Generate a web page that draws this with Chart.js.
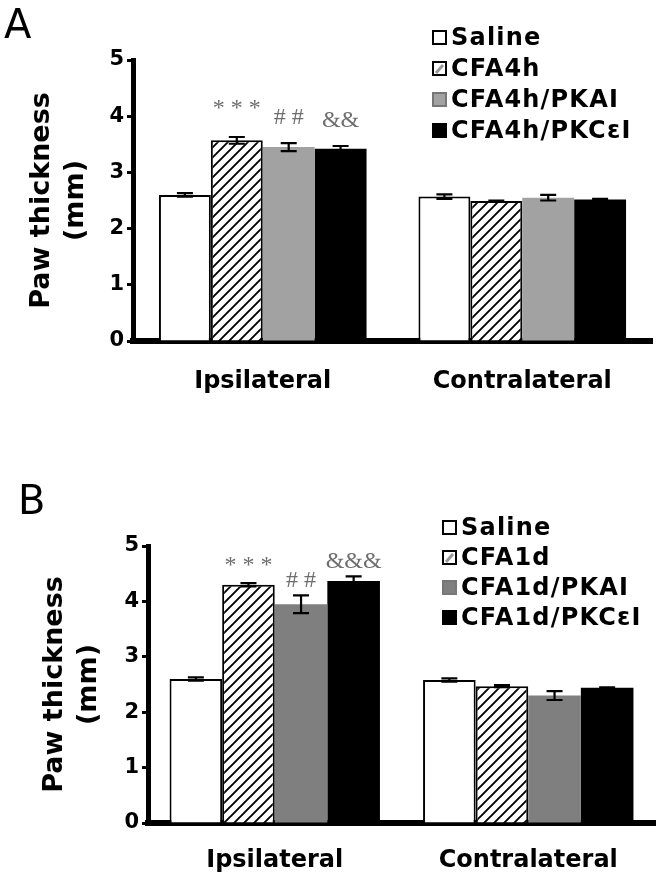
<!DOCTYPE html>
<html>
<head>
<meta charset="utf-8">
<script src="https://cdn.jsdelivr.net/npm/chart.js@4.4.1/dist/chart.umd.min.js"></script>
<style>
  html, body { margin: 0; padding: 0; background: #fff; }
  .panel { position: absolute; left: 0; width: 666px; height: 437px; }
</style>
</head>
<body>
<div class="panel" style="top:0"><canvas id="chartA"></canvas></div>
<div class="panel" style="top:437px"><canvas id="chartB"></canvas></div>
<script>
const categories = ['Ipsilateral', 'Contralateral'];
const yTicks = [0, 1, 2, 3, 4, 5];

// panel A - 4h
const groupsA = ['Saline', 'CFA4h', 'CFA4h/PKAI', 'CFA4h/PKCεI'];
const salineA = [2.60, 2.57];
const cfa4h = [3.57, 2.49];
const cfa4hPkai = [3.45, 2.55];
const cfa4hPkcei = [3.42, 2.52];
const salineAErr = [0.03, 0.04];
const cfa4hErr = [0.06, 0.01];
const cfa4hPkaiErr = [0.07, 0.05];
const cfa4hPkceiErr = [0.05, 0.01];
const sigA = ['', '* * *', '# #', '&&'];

// panel B - 1d
const groupsB = ['Saline', 'CFA1d', 'CFA1d/PKAI', 'CFA1d/PKCεI'];
const salineB = [2.60, 2.58];
const cfa1d = [4.30, 2.47];
const cfa1dPkai = [3.95, 2.30];
const cfa1dPkcei = [4.37, 2.44];
const salineBErr = [0.03, 0.03];
const cfa1dErr = [0.03, 0.02];
const cfa1dPkaiErr = [0.16, 0.08];
const cfa1dPkceiErr = [0.08, 0.01];
const sigB = ['', '* * *', '# #', '&&&'];

const FONT = "'DejaVu Sans', Verdana, sans-serif";

function hatch() {
  const c = document.createElement('canvas');
  c.width = 10; c.height = 10;
  const g = c.getContext('2d');
  g.fillStyle = '#fff';
  g.fillRect(0, 0, 10, 10);
  g.strokeStyle = '#000';
  g.lineWidth = 1.9;
  g.beginPath();
  g.moveTo(-1, 11); g.lineTo(11, -1);
  g.moveTo(-6, 6); g.lineTo(6, -6);
  g.moveTo(4, 16); g.lineTo(16, 4);
  g.stroke();
  return g.createPattern(c, 'repeat');
}

// error bars, significance marks, legend, panel letter
const extras = {
  id: 'extras',
  afterDatasetsDraw(chart, args, opts) {
    const ctx = chart.ctx;
    const y = chart.scales.y;
    ctx.save();
    chart.data.datasets.forEach((ds, i) => {
      const meta = chart.getDatasetMeta(i);
      meta.data.forEach((bar, j) => {
        const v = ds.data[j], e = ds.err[j];
        const top = y.getPixelForValue(v + e);
        const bot = y.getPixelForValue(v - e);
        ctx.strokeStyle = '#000';
        ctx.lineWidth = 2.2;
        ctx.beginPath();
        ctx.moveTo(bar.x, top); ctx.lineTo(bar.x, bot);
        ctx.moveTo(bar.x - 8, top); ctx.lineTo(bar.x + 8, top);
        ctx.moveTo(bar.x - 8, bot); ctx.lineTo(bar.x + 8, bot);
        ctx.stroke();
        if (j === 0 && opts.sig[i]) {
          ctx.fillStyle = '#6e6e6e';
          ctx.font = "24px 'Liberation Serif', 'DejaVu Serif', serif";
          ctx.textAlign = 'center';
          ctx.textBaseline = 'alphabetic';
          const off = opts.sig[i].indexOf('*') >= 0 ? opts.starGap : opts.gap;
          ctx.fillText(opts.sig[i], bar.x, top - off);
        }
      });
    });
    ctx.restore();
  },
  afterDraw(chart, args, opts) {
    const ctx = chart.ctx;
    ctx.save();
    ctx.fillStyle = '#000';
    ctx.font = '40px ' + FONT;
    ctx.textBaseline = 'alphabetic';
    ctx.textAlign = 'left';
    ctx.fillText(opts.letter, opts.letterX, opts.letterY);

    ctx.font = 'bold 24px ' + FONT;
    ctx.letterSpacing = '1.2px';
    ctx.textBaseline = 'middle';
    chart.data.datasets.forEach((ds, i) => {
      const ly = opts.legendY + i * opts.rowH;
      const bx = opts.legendX;
      ctx.fillStyle = ds.swatch;
      ctx.fillRect(bx, ly - 7, 13, 13);
      ctx.strokeStyle = ds.swatchBorder;
      ctx.lineWidth = 2;
      ctx.strokeRect(bx, ly - 7, 13, 13);
      if (ds.hatched) {
        ctx.strokeStyle = '#999';
        ctx.lineWidth = 3;
        ctx.beginPath();
        ctx.moveTo(bx + 3, ly + 4); ctx.lineTo(bx + 10, ly - 4);
        ctx.stroke();
      }
      ctx.fillStyle = '#000';
      ctx.fillText(ds.label, bx + 18, ly + 1);
    });
    ctx.restore();
  }
};

function makePanel(id, groups, series, errs, sig, gray, lay) {
  const ctx = document.getElementById(id).getContext('2d');
  const fills = ['#ffffff', hatch(), gray, '#000000'];
  const borders = ['#000', '#000', gray, '#000'];
  const datasets = groups.map((g, i) => ({
    label: g,
    data: series[i],
    err: errs[i],
    backgroundColor: fills[i],
    borderColor: borders[i],
    borderWidth: i < 2 ? 2 : 0,
    swatch: i === 1 ? '#fff' : fills[i],
    swatchBorder: i === 2 ? '#777' : '#000',
    hatched: i === 1
  }));
  return new Chart(ctx, {
    type: 'bar',
    data: { labels: categories, datasets: datasets },
    options: {
      responsive: true,
      maintainAspectRatio: false,
      animation: false,
      layout: { padding: { top: lay.top, right: lay.right, left: 0, bottom: 0 } },
      datasets: { bar: { categoryPercentage: lay.catPct, barPercentage: 1.0 } },
      scales: {
        x: {
          grid: { display: false },
          border: { display: true, color: '#000', width: 6 },
          ticks: { color: '#000', padding: lay.xPad, font: { family: FONT, size: 24, weight: 'bold' } },
          afterFit: s => { s.height = lay.xHeight; }
        },
        y: {
          min: 0, max: 5,
          afterBuildTicks: s => { s.ticks = yTicks.map(v => ({ value: v })); },
          grid: { display: true, drawOnChartArea: false, drawTicks: true, tickLength: 6, tickWidth: 3, tickColor: '#000' },
          border: { display: true, color: '#000', width: 5 },
          ticks: { color: '#000', padding: 3, font: { family: FONT, size: 21, weight: 'bold' } },
          title: {
            display: true,
            text: ['Paw thickness', '(mm)'],
            color: '#000',
            padding: { top: lay.titlePad, bottom: 0 },
            font: { family: FONT, size: 27, weight: 'bold', lineHeight: 1.25 }
          },
          afterFit: s => { s.width = lay.left; }
        }
      },
      plugins: {
        legend: { display: false },
        tooltip: { enabled: false },
        extras: {
          sig: sig, gap: lay.gap, starGap: lay.starGap,
          letter: lay.letter, letterX: lay.letterX, letterY: lay.letterY,
          legendX: lay.legendX, legendY: lay.legendY, rowH: lay.rowH
        }
      }
    },
    plugins: [extras]
  });
}

makePanel('chartA', groupsA,
  [salineA, cfa4h, cfa4hPkai, cfa4hPkcei],
  [salineAErr, cfa4hErr, cfa4hPkaiErr, cfa4hPkceiErr],
  sigA, '#a2a2a2',
  { top: 60, right: 14, left: 133, xHeight: 96, xPad: 18, catPct: 0.8, titlePad: 25,
    gap: 19, starGap: 22,
    letter: 'A', letterX: 4, letterY: 38, legendX: 433, legendY: 38, rowH: 31 });

makePanel('chartB', groupsB,
  [salineB, cfa1d, cfa1dPkai, cfa1dPkcei],
  [salineBErr, cfa1dErr, cfa1dPkaiErr, cfa1dPkceiErr],
  sigB, '#7f7f7f',
  { top: 109, right: 11, left: 148, xHeight: 51, xPad: 15, catPct: 0.83, titlePad: 38,
    gap: 8, starGap: 11,
    letter: 'B', letterX: 18, letterY: 77, legendX: 443, legendY: 91, rowH: 30 });
</script>
</body>
</html>
